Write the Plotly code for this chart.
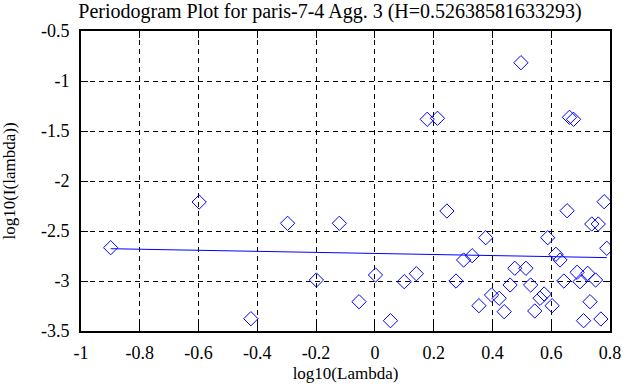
import plotly.graph_objects as go

# Periodogram points (log10 lambda, log10 I(lambda))
log_lambda = [-0.899, -0.598, -0.297, -0.121, -0.199, -0.422,
              0.497, 0.178, 0.213, 0.662, 0.676, 0.245, 0.654, 0.780,
              0.738, 0.760, 0.377, 0.588, 0.789, 0.616, 0.630, 0.331,
              0.302, 0.002, -0.054, 0.053, 0.100, 0.141, 0.276, 0.354,
              0.397, 0.423, 0.440, 0.460, 0.476, 0.514, 0.530, 0.544,
              0.562, 0.576, 0.603, 0.643, 0.688, 0.698, 0.724, 0.751,
              0.732, 0.710, 0.769]
log_I = [-2.667, -2.21, -2.423, -2.423, -2.99, -3.377,
         -0.817, -1.383, -1.373, -1.363, -1.383, -2.30, -2.297, -2.207,
         -2.43, -2.43, -2.567, -2.567, -2.673, -2.733, -2.79, -2.747,
         -2.79, -2.94, -3.207, -3.397, -3.007, -2.927, -3.0, -3.247,
         -3.14, -3.173, -3.307, -3.04, -2.873, -2.873, -3.04, -3.30,
         -3.173, -3.13, -3.247, -3.0, -2.913, -3.007, -2.923, -2.99,
         -3.207, -3.397, -3.38]

H = 0.52638581633293
fit_slope = 1 - 2 * H
fit_intercept = -2.7245
fit_x = [-0.899, 0.789]
fit_y = [fit_intercept + fit_slope * v for v in fit_x]

x_ticks = [-1, -0.8, -0.6, -0.4, -0.2, 0, 0.2, 0.4, 0.6, 0.8]
x_tick_text = ["-1", "-0.8", "-0.6", "-0.4", "-0.2", "0", "0.2", "0.4", "0.6", "0.8"]
y_ticks = [-3.5, -3, -2.5, -2, -1.5, -1, -0.5]
y_tick_text = ["-3.5", "-3", "-2.5", "-2", "-1.5", "-1", "-0.5"]

font = "Liberation Serif"

fig = go.Figure()
fig.add_trace(go.Scatter(x=log_lambda, y=log_I, mode="markers",
                         marker=dict(symbol="diamond-open", size=11,
                                     color="#0000ff", line=dict(width=1, color="#0000ff")),
                         showlegend=False))
fig.add_trace(go.Scatter(x=fit_x, y=fit_y, mode="lines",
                         line=dict(color="#0000ff", width=1), showlegend=False))

axis_common = dict(showgrid=True, gridcolor="black", gridwidth=1, griddash="5px,4px",
                   zeroline=False, showline=True, linecolor="black", linewidth=2,
                   mirror="ticks", ticks="inside", ticklen=7, tickcolor="black",
                   tickwidth=1, automargin=False,
                   tickfont=dict(family=font, size=18, color="black"))

fig.update_xaxes(range=[-1, 0.8], tickvals=x_ticks, ticktext=x_tick_text,
                 ticklabelstandoff=4,
                 title=dict(text="log10(Lambda)", font=dict(family=font, size=17, color="black"),
                            standoff=6),
                 **axis_common)
fig.update_yaxes(range=[-3.5, -0.5], tickvals=y_ticks, ticktext=y_tick_text,
                 ticklabelstandoff=6,
                 title=dict(text="log10(I(lambda))", font=dict(family=font, size=17, color="black"),
                            standoff=22),
                 **axis_common)

fig.update_layout(
    width=642, height=387,
    margin=dict(l=81, r=32, t=31, b=56),
    paper_bgcolor="white", plot_bgcolor="white",
    title=dict(text="Periodogram Plot for paris-7-4 Agg. 3 (H=0.52638581633293)",
               font=dict(family=font, size=20, color="black"),
               x=330 / 642, xanchor="center", xref="container",
               y=1 - 11 / 387, yanchor="middle", yref="container"),
)

fig.write_html("out.html", config={"displayModeBar": False},
               post_script="document.body.style.margin='0';")
